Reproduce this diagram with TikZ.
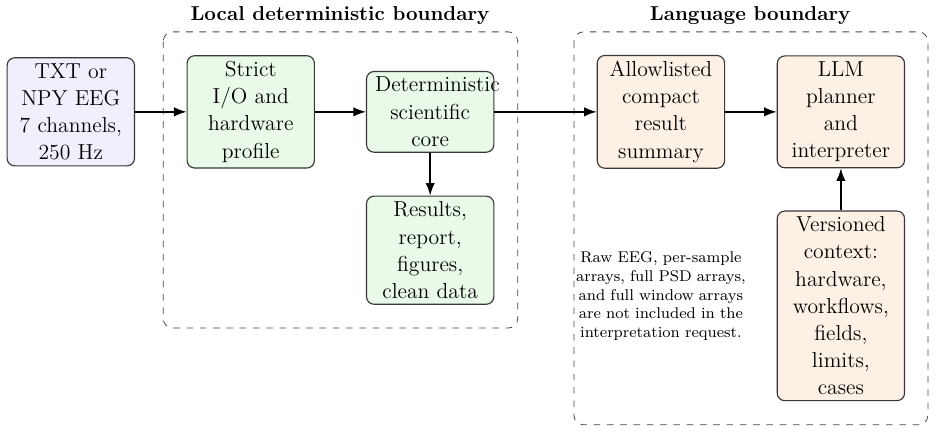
\documentclass[tikz,border=0pt]{standalone}
\usepackage{amsmath}
\usepackage{tikz}
\usepackage{xcolor}
\usetikzlibrary{arrows.meta,positioning}
\definecolor{inputfill}{RGB}{240,240,252}
\definecolor{localfill}{RGB}{233,250,233}
\definecolor{langfill}{RGB}{253,241,229}
\definecolor{boxline}{RGB}{55,55,55}
\definecolor{zoneline}{RGB}{70,70,70}

\begin{document}
\begin{tikzpicture}[>=Latex,
    stage/.style={draw=boxline, semithick, rounded corners=4pt, text width=2.04cm, align=center,
      inner xsep=4.5pt, inner ysep=3pt, font=\fontsize{11.4}{14.3}\selectfont},
    zone/.style={draw=zoneline, dash pattern=on 3.5pt off 3.5pt, rounded corners=5pt},
    flow/.style={->, thick}]
      \useasboundingbox (0,0) rectangle (17.32,-8.01);
      % boundaries
      \draw[zone] (3.02,-0.59) rectangle (9.58,-6.07);
      \draw[zone] (10.62,-0.59) rectangle (17.17,-7.86);
      \node[font=\fontsize{10.6}{12}\selectfont\bfseries] (localtitle) at (6.29,-0.28) {Local deterministic boundary};
      \node[font=\fontsize{10.6}{12}\selectfont\bfseries] (langtitle) at (13.88,-0.28) {Language boundary};
      % stages
      \node[stage, fill=inputfill] (input) at (1.31,-2.07) {TXT or NPY EEG 7 channels, 250 Hz};
      \node[stage, fill=localfill] (strict) at (4.64,-2.07) {Strict I/O and hardware profile};
      \node[stage, fill=localfill] (core) at (7.96,-2.07) {Deterministic scientific core};
      \node[stage, fill=localfill] (results) at (7.96,-4.63) {Results, report, figures, clean data};
      \node[stage, fill=langfill] (summary) at (12.23,-2.07) {Allowlisted compact result summary};
      \node[stage, fill=langfill] (llm) at (15.56,-2.07) {LLM planner and interpreter};
      \node[stage, fill=langfill] (context) at (15.56,-5.66) {Versioned context: hardware, workflows, fields, limits, cases};
      \node[font=\fontsize{8.2}{9.9}\selectfont, text width=3.3cm, align=center, inner sep=0pt] (note) at (12.23,-5.48)
        {Raw EEG, per-sample arrays, full PSD arrays, and full window arrays are not included in the interpretation request.};
      % connectors
      \draw[flow] (input) -- (strict);
      \draw[flow] (strict) -- (core);
      \draw[flow] (core) -- (results);
      \draw[flow] (core) -- (summary);
      \draw[flow] (summary) -- (llm);
      \draw[flow] (context) -- (llm);
    \end{tikzpicture}
\end{document}
